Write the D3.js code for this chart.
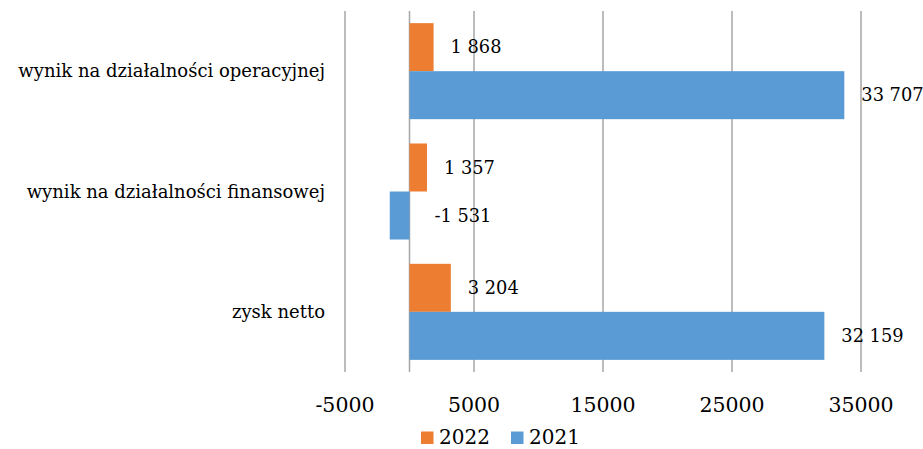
<!DOCTYPE html>
<html>
<head>
<meta charset="utf-8">
<script src="https://cdn.jsdelivr.net/npm/d3@7"></script>
<style>
  body { margin: 0; background: #fff; }
  text { font-family: "DejaVu Serif", serif; fill: #000; }
</style>
</head>
<body>
<div id="chart"></div>
<script>
// data
var categories = ['wynik na działalności operacyjnej', 'wynik na działalności finansowej', 'zysk netto'];
var seriesNames = ['2022', '2021'];
var values2022 = [1868, 1357, 3204];
var values2021 = [33707, -1531, 32159];
var labels2022 = ['1 868', '1 357', '3 204'];
var labels2021 = ['33 707', '-1 531', '32 159'];
var tickValues = [-5000, 5000, 15000, 25000, 35000];

var width = 923;
var height = 449;

var colormap = {'2022': '#ED7D31', '2021': '#5B9BD5'};

var svg = d3.select('#chart')
      .append('svg')
      .attr('width', width)
      .attr('height', height);

var x = d3.scaleLinear().domain([-5000, 35000]).range([345, 861]);
var y = d3.scaleBand().domain(categories).range([11, 372]).padding(0);
var ySub = d3.scaleBand().domain(seriesNames).range([0, y.bandwidth()])
      .paddingInner(0).paddingOuter(0.253);

// build rows for bars
var rows = [];
categories.forEach(function(c, i) {
  rows.push({cat: c, series: '2022', value: values2022[i], label: labels2022[i]});
  rows.push({cat: c, series: '2021', value: values2021[i], label: labels2021[i]});
});

// gridlines (major every 10000 from -5000) + zero axis
var grid = svg.append('g');
grid.selectAll('line.grid')
  .data(tickValues.concat([0]))
  .enter()
  .append('line')
  .attr('x1', function(d) { return x(d); })
  .attr('x2', function(d) { return x(d); })
  .attr('y1', 11)
  .attr('y2', 372)
  .style('stroke', '#a6a6a6')
  .style('stroke-width', 1.5);

// bars
svg.selectAll('rect.bar')
  .data(rows)
  .enter()
  .append('rect')
  .attr('x', function(d) { return x(Math.min(0, d.value)); })
  .attr('y', function(d) { return y(d.cat) + ySub(d.series); })
  .attr('width', function(d) { return Math.abs(x(d.value) - x(0)); })
  .attr('height', ySub.bandwidth())
  .style('fill', function(d) { return colormap[d.series]; });

// data labels
svg.selectAll('text.val')
  .data(rows)
  .enter()
  .append('text')
  .attr('x', function(d) { return x(Math.max(0, d.value)) + (d.value < 0 ? 25 : 17); })
  .attr('y', function(d) { return y(d.cat) + ySub(d.series) + ySub.bandwidth() / 2; })
  .attr('dy', '0.35em')
  .style('font-size', '17.8px')
  .text(function(d) { return d.label; });

// category labels
svg.selectAll('text.cat')
  .data(categories)
  .enter()
  .append('text')
  .attr('x', 325)
  .attr('y', function(d) { return y(d) + y.bandwidth() / 2; })
  .attr('dy', '0.35em')
  .attr('text-anchor', 'end')
  .style('font-size', '18px')
  .text(function(d) { return d; });

// x axis tick labels
svg.selectAll('text.tick')
  .data(tickValues)
  .enter()
  .append('text')
  .attr('x', function(d) { return x(d); })
  .attr('y', 411.5)
  .attr('text-anchor', 'middle')
  .style('font-size', '20.5px')
  .text(function(d) { return d; });

// legend
var legend = svg.append('g');
var legendX = [421, 511];
seriesNames.forEach(function(s, i) {
  legend.append('rect')
    .attr('x', legendX[i])
    .attr('y', 431.5)
    .attr('width', 12.5)
    .attr('height', 12.5)
    .style('fill', colormap[s]);
  legend.append('text')
    .attr('x', legendX[i] + 18)
    .attr('y', 444)
    .style('font-size', '20px')
    .text(s);
});
</script>
</body>
</html>
